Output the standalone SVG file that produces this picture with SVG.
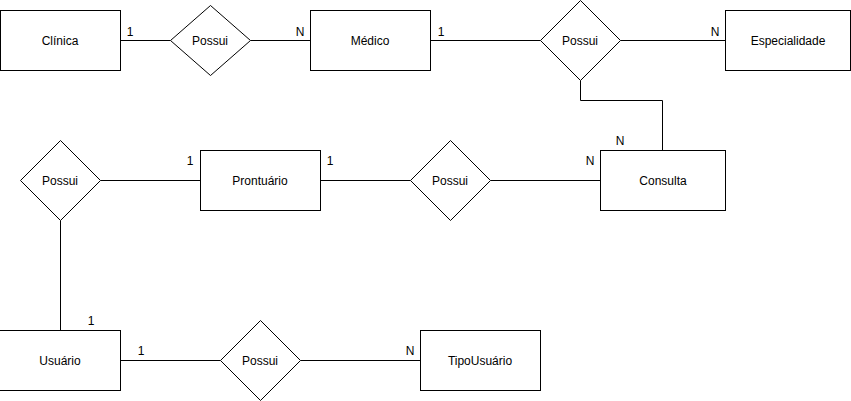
<svg xmlns="http://www.w3.org/2000/svg" width="851" height="401" viewBox="0 0 851 401">
<style>
.ent{fill:#fff;stroke:#000;stroke-width:1}
.rel{fill:#fff;stroke:#000;stroke-width:1}
.edge{fill:none;stroke:#000;stroke-width:1}
text{font-family:"Liberation Sans",Arial,sans-serif;font-size:12px;fill:#000}
.c{text-anchor:middle}
</style>
<rect width="851" height="401" fill="#fff"/>
<g id="connectors">
<path class="edge" d="M120.5 40.5H170.5"/>
<path class="edge" d="M250.5 40.5H310.5"/>
<path class="edge" d="M430.5 40.5H540.5"/>
<path class="edge" d="M620.5 40.5H725.5"/>
<path class="edge" d="M580.5 80.5V100.5H662.5V150.5"/>
<path class="edge" d="M100.5 180.5H200.5"/>
<path class="edge" d="M320.5 180.5H410.5"/>
<path class="edge" d="M490.5 180.5H600.5"/>
<path class="edge" d="M60.5 220.5V330.5"/>
<path class="edge" d="M120.5 360.5H220.5"/>
<path class="edge" d="M300.5 360.5H420.5"/>
<text x="130" y="36" class="c">1</text>
<text x="300" y="36" class="c">N</text>
<text x="441" y="36" class="c">1</text>
<text x="715" y="36" class="c">N</text>
<text x="620" y="145" class="c">N</text>
<text x="590" y="165" class="c">N</text>
<text x="190" y="165" class="c">1</text>
<text x="330" y="165" class="c">1</text>
<text x="91" y="325" class="c">1</text>
<text x="141" y="355" class="c">1</text>
<text x="410" y="355" class="c">N</text>
</g>
<g id="clinica"><rect class="ent" x="0.5" y="10.5" width="120" height="60"/><text x="60" y="45" class="c">Clínica</text></g>
<g id="possui1"><polygon class="rel" points="210.5,5.5 250.5,40.5 210.5,75.5 170.5,40.5"/><text x="210" y="45" class="c">Possui</text></g>
<g id="medico"><rect class="ent" x="310.5" y="10.5" width="120" height="60"/><text x="370" y="45" class="c">Médico</text></g>
<g id="possui2"><polygon class="rel" points="580.5,0.5 620.5,40.5 580.5,80.5 540.5,40.5"/><text x="580" y="45" class="c">Possui</text></g>
<g id="especialidade"><rect class="ent" x="725.5" y="10.5" width="125" height="60"/><text x="788" y="45" class="c">Especialidade</text></g>
<g id="possui3"><polygon class="rel" points="60.5,140.5 100.5,180.5 60.5,220.5 20.5,180.5"/><text x="60" y="185" class="c">Possui</text></g>
<g id="prontuario"><rect class="ent" x="200.5" y="150.5" width="120" height="60"/><text x="260" y="185" class="c">Prontuário</text></g>
<g id="possui4"><polygon class="rel" points="450.5,140.5 490.5,180.5 450.5,220.5 410.5,180.5"/><text x="450" y="185" class="c">Possui</text></g>
<g id="consulta"><rect class="ent" x="600.5" y="150.5" width="125" height="60"/><text x="663" y="185" class="c">Consulta</text></g>
<g id="usuario"><rect class="ent" x="-0.5" y="330.5" width="121" height="60"/><text x="60" y="365" class="c">Usuário</text></g>
<g id="possui5"><polygon class="rel" points="260.5,320.5 300.5,360.5 260.5,400.5 220.5,360.5"/><text x="260" y="365" class="c">Possui</text></g>
<g id="tipousuario"><rect class="ent" x="420.5" y="330.5" width="120" height="60"/><text x="480" y="365" class="c">TipoUsuário</text></g>
</svg>
